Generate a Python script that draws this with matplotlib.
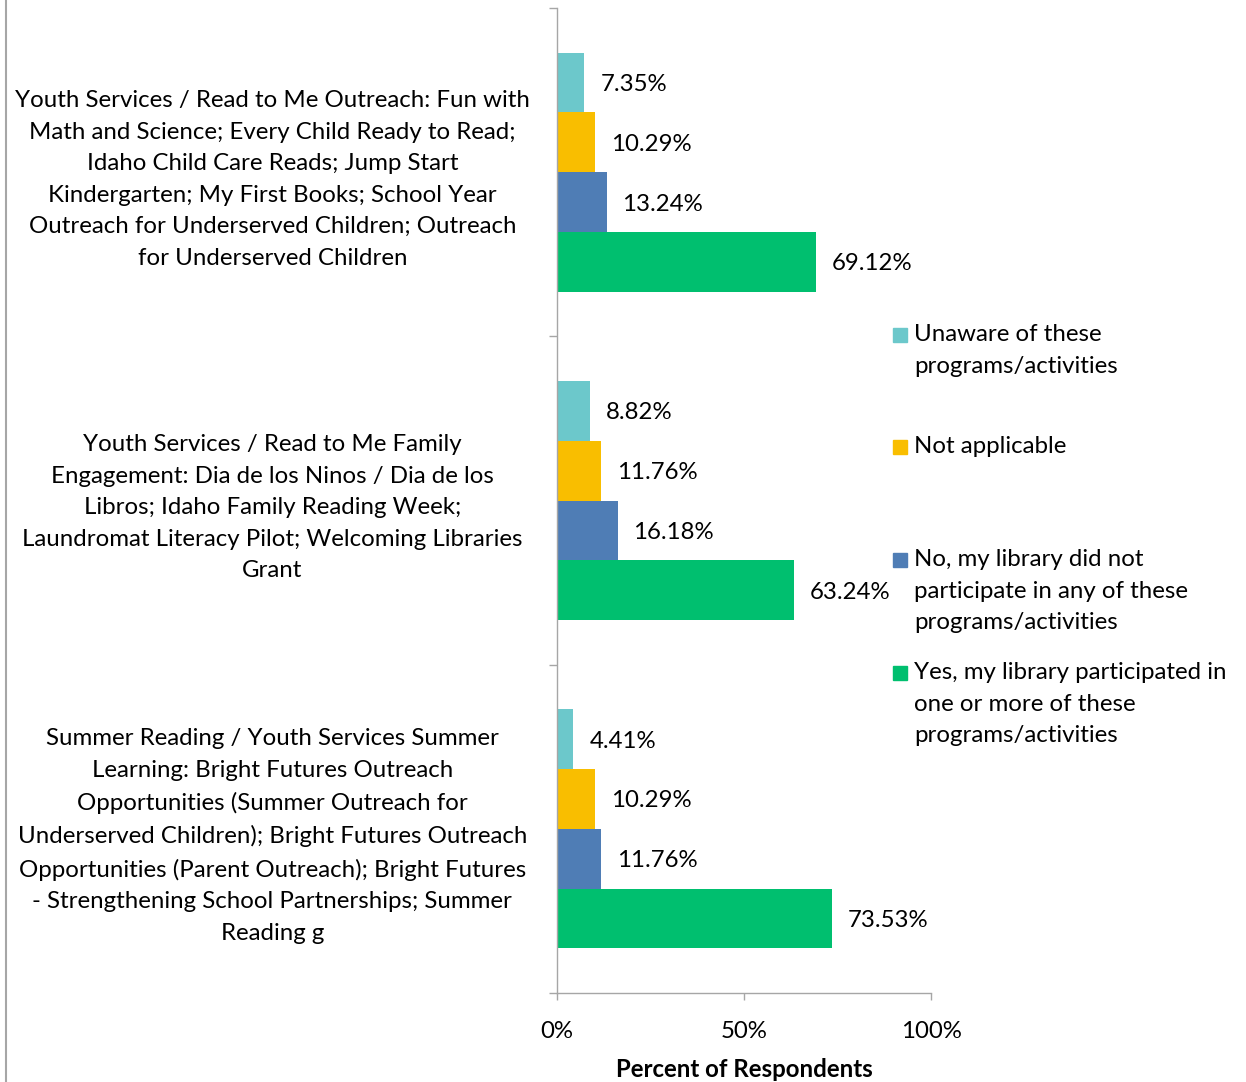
import numpy as np
import matplotlib.pyplot as plt
from matplotlib.lines import Line2D
from matplotlib.patches import Rectangle

plt.rcParams['font.family'] = ['Lato', 'DejaVu Sans']

categories = [
    "Youth Services / Read to Me Outreach: Fun with\nMath and Science; Every Child Ready to Read;\nIdaho Child Care Reads; Jump Start\nKindergarten; My First Books; School Year\nOutreach for Underserved Children; Outreach\nfor Underserved Children",
    "Youth Services / Read to Me Family\nEngagement: Dia de los Ninos / Dia de los\nLibros; Idaho Family Reading Week;\nLaundromat Literacy Pilot; Welcoming Libraries\nGrant",
    "Summer Reading / Youth Services Summer\nLearning: Bright Futures Outreach\nOpportunities (Summer Outreach for\nUnderserved Children); Bright Futures Outreach\nOpportunities (Parent Outreach); Bright Futures\n- Strengthening School Partnerships; Summer\nReading g",
]
series = [
    "Unaware of these\nprograms/activities",
    "Not applicable",
    "No, my library did not\nparticipate in any of these\nprograms/activities",
    "Yes, my library participated in\none or more of these\nprograms/activities",
]
unaware = [7.35, 8.82, 4.41]
not_applicable = [10.29, 11.76, 10.29]
no_participation = [13.24, 16.18, 11.76]
yes_participation = [69.12, 63.24, 73.53]
values = [unaware, not_applicable, no_participation, yes_participation]
colors = ['#6CC8CB', '#F9BE00', '#4F7DB5', '#00BF6F']
xticks = [0, 50, 100]

W, H = 1246, 1082
fig = plt.figure(figsize=(W / 100, H / 100), dpi=100)
ax = fig.add_axes([557 / W, 1 - 993 / H, (931 - 557) / W, (993 - 8) / H])

grey = '#A6A6A6'
fs = 17.3
ls = 1.62
bh = 0.182
y = np.arange(len(categories))
for i, (vals, c) in enumerate(zip(values, colors)):
    pos = y + (i - 1.5) * bh
    ax.barh(pos, vals, height=bh, color=c)
    for v, p in zip(vals, pos):
        ax.annotate("{:.2f}%".format(v), (v, p), xytext=(11.5, 0),
                    textcoords='offset points', ha='left',
                    va='center_baseline', fontsize=fs)

ax.set_xlim(0, 100)
ax.set_ylim(len(categories) - 0.5, -0.5)

ax.set_xticks(xticks)
ax.set_xticklabels(["{}%".format(t) for t in xticks], fontsize=fs)
ax.tick_params(axis='x', length=5, width=1, color=grey, pad=15)
ax.set_xlabel("Percent of Respondents", fontsize=fs, fontweight='bold', labelpad=12)

ax.set_yticks(y)
ax.set_yticklabels(categories, fontsize=fs, ha='center', linespacing=ls)
ax.tick_params(axis='y', which='major', length=0, pad=205)
ax.set_yticks(np.arange(len(categories) + 1) - 0.5, minor=True)
ax.tick_params(axis='y', which='minor', length=5.5, width=1, color=grey)

for s in ['top', 'right']:
    ax.spines[s].set_visible(False)
for s in ['left', 'bottom']:
    ax.spines[s].set_color(grey)
    ax.spines[s].set_linewidth(1)

# legend drawn by hand to keep Excel's even spacing
leg_y = [335, 447, 560, 673]
for lab, c, yy in zip(series, colors, leg_y):
    fig.add_artist(Rectangle((893 / W, 1 - (yy + 7) / H), 14 / W, 14 / H,
                             transform=fig.transFigure, color=c))
    fig.text(914 / W, 1 - (yy - 11) / H, lab, fontsize=fs, va='top', ha='left',
             linespacing=ls)

fig.add_artist(Line2D([5.5 / W, 5.5 / W], [0, 1], transform=fig.transFigure,
                      color=grey, lw=1.5))

plt.savefig("out.png", dpi=100)
